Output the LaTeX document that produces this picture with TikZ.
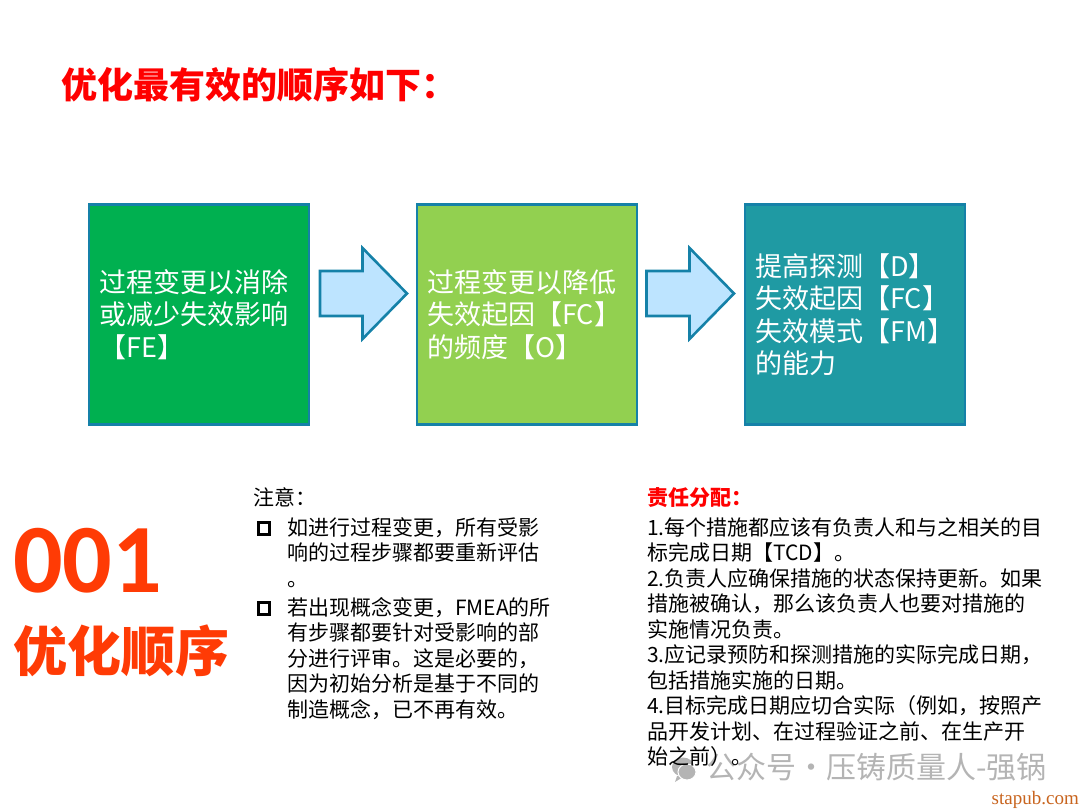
\documentclass[tikz,border=0pt]{standalone}
\usepackage{fontspec}
\setmainfont{Noto Sans CJK SC}
\newfontfamily\latinbold[Scale=1]{Carlito}
\newfontfamily\serifmark{Liberation Serif}
\definecolor{edgeblue}{HTML}{1581A8}
\definecolor{boxa}{HTML}{00B050}
\definecolor{boxb}{HTML}{92D050}
\definecolor{boxc}{HTML}{1F9AA3}
\definecolor{arrowfill}{HTML}{BDE4FF}
\definecolor{hotred}{HTML}{FF3B05}
\definecolor{wm}{HTML}{B4B4B4}
\definecolor{markorange}{HTML}{C8641E}
\tikzset{
 flowbox/.style={draw=edgeblue,line width=2.8pt,minimum width=220pt,minimum height=220pt,anchor=north west,inner sep=0pt},
 boxtext/.style={text=white,font=\fontsize{27}{32.5}\selectfont,align=left,anchor=west,inner sep=0pt},
 bodytext/.style={text=black,font=\fontsize{21}{25.5}\selectfont,align=left,anchor=north west,inner sep=0pt},
 flowarrow/.style={draw=edgeblue,line width=2.6pt,fill=arrowfill,line join=miter},
 bulletbox/.style={draw=black,line width=3pt,minimum size=11.5pt,inner sep=0pt,anchor=center}
}
\begin{document}
\begin{tikzpicture}[x=1pt,y=-1pt]
\useasboundingbox (0,0) rectangle (1080,810);
\node[anchor=west,inner sep=0pt,text=red,font=\fontsize{36}{40}\selectfont\bfseries] (title) at (61,85) {优化最有效的顺序如下：};
\node[flowbox,fill=boxa] (b1) at (87.5,203) {};
\node[flowbox,fill=boxb] (b2) at (415.5,203) {};
\node[flowbox,fill=boxc] (b3) at (743.5,203) {};
\node[boxtext] (t1) at (99,314.5) {过程变更以消除\\或减少失效影响\\【FE】};
\node[boxtext] (t2) at (427,314.5) {过程变更以降低\\失效起因【FC】\\的频度【O】};
\node[boxtext] (t3) at (755,314.5) {提高探测【D】\\失效起因【FC】\\失效模式【FM】\\的能力};
\draw[flowarrow] (320,271) -- (362.5,271) -- (362.5,248) -- (407,293.5) -- (362.5,339) -- (362.5,316) -- (320,316) -- cycle;
\draw[flowarrow] (646.5,271) -- (689.5,271) -- (689.5,248) -- (734,293.5) -- (689.5,339) -- (689.5,316) -- (646.5,316) -- cycle;
\node[anchor=west,inner sep=0pt,text=hotred,font=\fontsize{98}{98}\latinbold\bfseries] (num) at (13,561) {001};
\node[anchor=west,inner sep=0pt,text=hotred,font=\fontsize{54}{60}\selectfont\bfseries] (sub) at (13,651) {优化顺序};
% watermark, under the text
\fill[wm] (683,767) ellipse (11pt and 9.5pt);
\fill[wm] (677,776) -- (675,782) -- (683,777) -- cycle;
\fill[wm,draw=white,line width=1pt] (687,772) ellipse (9pt and 8pt);
\node[anchor=west,inner sep=0pt,text=wm,font=\fontsize{30}{32}\selectfont] (wmt) at (706,767) {公众号·压铸质量人-强锅};
\node[bodytext] (note) at (253,487) {注意：};
\node[bulletbox] (bu1) at (264,528.5) {};
\node[bodytext] (n1) at (287,517) {如进行过程变更，所有受影\\响的过程步骤都要重新评估\\。};
\node[bulletbox] (bu2) at (264,608.5) {};
\node[bodytext] (n2) at (287,597) {若出现概念变更，FMEA的所\\有步骤都要针对受影响的部\\分进行评审。这是必要的，\\因为初始分析是基于不同的\\制造概念，已不再有效。};
\node[bodytext,text=red,font=\fontsize{21}{25.5}\selectfont\bfseries] (rh) at (647,487) {责任分配：};
\node[bodytext] (r) at (647,517) {1.每个措施都应该有负责人和与之相关的目\\标完成日期【TCD】。\\2.负责人应确保措施的状态保持更新。如果\\措施被确认，那么该负责人也要对措施的\\实施情况负责。\\3.应记录预防和探测措施的实际完成日期，\\包括措施实施的日期。\\4.目标完成日期应切合实际（例如，按照产\\品开发计划、在过程验证之前、在生产开\\始之前）。};
\node[anchor=east,inner sep=0pt,text=markorange,font=\fontsize{19}{22}\serifmark] (site) at (1079,800) {stapub.com};
\end{tikzpicture}
\end{document}
